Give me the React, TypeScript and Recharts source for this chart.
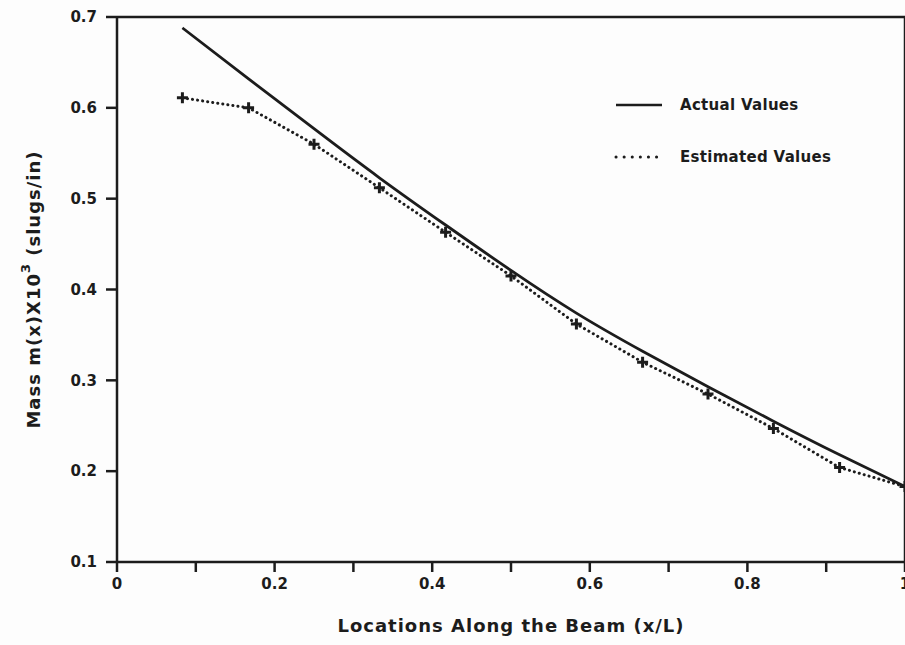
import React from 'react';
import { LineChart, Line, XAxis, YAxis, ReferenceLine, Legend } from 'recharts';

// beam locations (x/L)
const locations = [0.083, 0.167, 0.25, 0.333, 0.417, 0.5, 0.583, 0.667, 0.75, 0.833, 0.917, 1.0];
const actualValues = [0.688, 0.632, 0.577, 0.523, 0.471, 0.421, 0.374, 0.332, 0.293, 0.255, 0.218, 0.183];
const estimatedValues = [0.611, 0.600, 0.560, 0.512, 0.463, 0.415, 0.362, 0.320, 0.285, 0.247, 0.204, 0.183];

const xTicks = [0, 0.1, 0.2, 0.3, 0.4, 0.5, 0.6, 0.7, 0.8, 0.9, 1.0];
const xTickLabels = ['0', '', '0.2', '', '0.4', '', '0.6', '', '0.8', '', '1'];
const yTicks = [0.1, 0.2, 0.3, 0.4, 0.5, 0.6, 0.7];

const data = locations.map((x, i) => ({
    x,
    actual: actualValues[i],
    estimated: estimatedValues[i],
}));

const INK = '#1c1c1c';
const FONT = '"DejaVu Sans", sans-serif';

const PlusDot = (props: any) => {
    const { cx, cy } = props;
    if (cx == null || cy == null) return null;
    return (
        <path
            d={`M${cx - 5.5},${cy} L${cx + 5.5},${cy} M${cx},${cy - 5.5} L${cx},${cy + 5.5}`}
            stroke={INK}
            strokeWidth={3}
            fill="none"
        />
    );
};

const YTitle = (props: any) => {
    const { viewBox } = props;
    const cx = 33;
    const cy = viewBox.y + viewBox.height / 2;
    return (
        <text
            x={cx}
            y={cy}
            transform={`rotate(-90, ${cx}, ${cy})`}
            textAnchor="middle"
            dominantBaseline="central"
            fontFamily={FONT}
            fontWeight="bold"
            fontSize={18}
            letterSpacing={1}
            fill={INK}
        >
            Mass m(x)X10
            <tspan dy={-8} fontSize={13}>3</tspan>
            <tspan dy={8}> (slugs/in)</tspan>
        </text>
    );
};

const renderLegend = () => (
    <div style={{ fontFamily: FONT, fontWeight: 'bold', fontSize: 15, letterSpacing: 0.3, color: INK }}>
        <div style={{ display: 'flex', alignItems: 'center', height: 20 }}>
            <svg width={50} height={10}>
                <line x1={4} y1={5} x2={50} y2={5} stroke={INK} strokeWidth={2.5} />
            </svg>
            <span style={{ marginLeft: 18 }}>Actual Values</span>
        </div>
        <div style={{ display: 'flex', alignItems: 'center', height: 20, marginTop: 32 }}>
            <svg width={50} height={10}>
                <line
                    x1={4}
                    y1={5}
                    x2={50}
                    y2={5}
                    stroke={INK}
                    strokeWidth={3}
                    strokeDasharray="0.1 8"
                    strokeLinecap="round"
                />
            </svg>
            <span style={{ marginLeft: 18 }}>Estimated Values</span>
        </div>
    </div>
);

export default function App() {
    return (
        <div
            style={{
                position: 'absolute',
                left: 0,
                top: 0,
                width: 905,
                height: 645,
                overflow: 'hidden',
                background: '#fdfdfd',
            }}
        >
            <LineChart width={905} height={645} data={data} margin={{ top: 17, right: 0, left: 0, bottom: 0 }}>
                <XAxis
                    dataKey="x"
                    type="number"
                    domain={[0, 1]}
                    ticks={xTicks}
                    interval={0}
                    tickFormatter={(v: number) => xTickLabels[xTicks.indexOf(v)] ?? ''}
                    height={83}
                    tickSize={10}
                    tickMargin={6}
                    stroke={INK}
                    strokeWidth={2.5}
                    tick={{ fill: INK, fontFamily: FONT, fontWeight: 'bold', fontSize: 15 }}
                    label={{
                        value: 'Locations Along the Beam (x/L)',
                        position: 'insideBottom',
                        offset: 13,
                        fill: INK,
                        fontFamily: FONT,
                        fontWeight: 'bold',
                        fontSize: 18,
                        letterSpacing: 1,
                    }}
                />
                <YAxis
                    type="number"
                    domain={[0.1, 0.7]}
                    ticks={yTicks}
                    interval={0}
                    width={117}
                    tickSize={11}
                    tickMargin={9}
                    stroke={INK}
                    strokeWidth={2.5}
                    tick={{ fill: INK, fontFamily: FONT, fontWeight: 'bold', fontSize: 15 }}
                    label={<YTitle />}
                />
                <ReferenceLine y={0.7} stroke={INK} strokeWidth={2.5} />
                <ReferenceLine x={1} stroke={INK} strokeWidth={2.5} />
                <Legend
                    layout="vertical"
                    verticalAlign="middle"
                    align="center"
                    wrapperStyle={{ top: 95, left: 612, width: 280 }}
                    content={renderLegend}
                />
                <Line
                    type="natural"
                    dataKey="actual"
                    stroke={INK}
                    strokeWidth={2.8}
                    dot={false}
                    isAnimationActive={false}
                />
                <Line
                    type="linear"
                    dataKey="estimated"
                    stroke={INK}
                    strokeWidth={3}
                    strokeDasharray="0.1 5"
                    strokeLinecap="round"
                    dot={<PlusDot />}
                    isAnimationActive={false}
                />
            </LineChart>
        </div>
    );
}
